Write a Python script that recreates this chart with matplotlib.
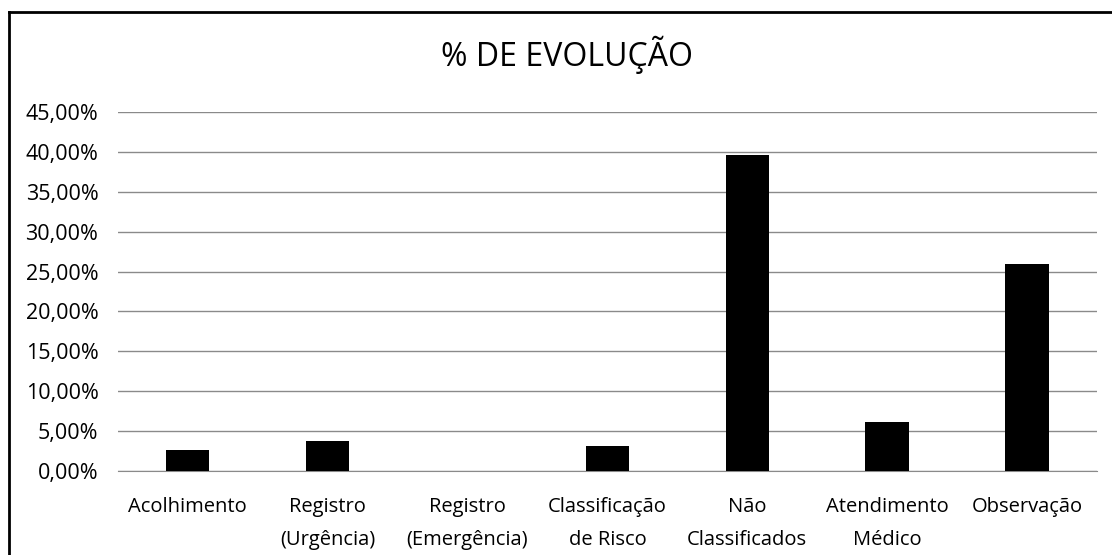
import matplotlib
matplotlib.use("Agg")
import matplotlib.pyplot as plt
from matplotlib.ticker import FuncFormatter

# --- Data ---
categories = ["Acolhimento", "Registro\n(Urgência)", "Registro\n(Emergência)",
              "Classificação\nde Risco", "Não\nClassificados", "Atendimento\nMédico",
              "Observação"]
evolucao = [0.026, 0.0375, 0.0, 0.031, 0.396, 0.061, 0.259]
yticks = [0.0, 0.05, 0.10, 0.15, 0.20, 0.25, 0.30, 0.35, 0.40, 0.45]

plt.rcParams['font.family'] = ['Open Sans', 'DejaVu Sans']

fig = plt.figure(figsize=(11.12, 5.55), dpi=100)
ax = fig.add_axes([0.106, 0.1514, 0.8805, 0.6466])

ax.bar(range(len(categories)), evolucao, width=0.31, color='black', zorder=3)

ax.set_xlim(-0.5, len(categories) - 0.5)
ax.set_ylim(0, 0.45)
ax.set_yticks(yticks)
ax.yaxis.set_major_formatter(FuncFormatter(lambda v, p: f"{v*100:.2f}%".replace(".", ",")))
ax.set_xticks(range(len(categories)))
ax.set_xticklabels(categories, fontsize=14.5, linespacing=1.85)

ax.grid(axis='y', color='#8a8a8a', linewidth=1.0, zorder=0)
ax.tick_params(axis='y', length=0, pad=14, labelsize=15.5)
ax.tick_params(axis='x', length=0, pad=19)
for s in ['top', 'right', 'left']:
    ax.spines[s].set_visible(False)
ax.spines['bottom'].set_color('#8a8a8a')

fig.text(0.51, 0.901, "% DE EVOLUÇÃO", ha='center', va='center', fontsize=23)

# outer chart frame (top and left visible)
fig.add_artist(plt.Line2D([0.008, 1.0], [0.978, 0.978], color='black', linewidth=2, transform=fig.transFigure))
fig.add_artist(plt.Line2D([0.008, 0.008], [0.0, 0.978], color='black', linewidth=2, transform=fig.transFigure))

fig.savefig("out.png", dpi=100)
